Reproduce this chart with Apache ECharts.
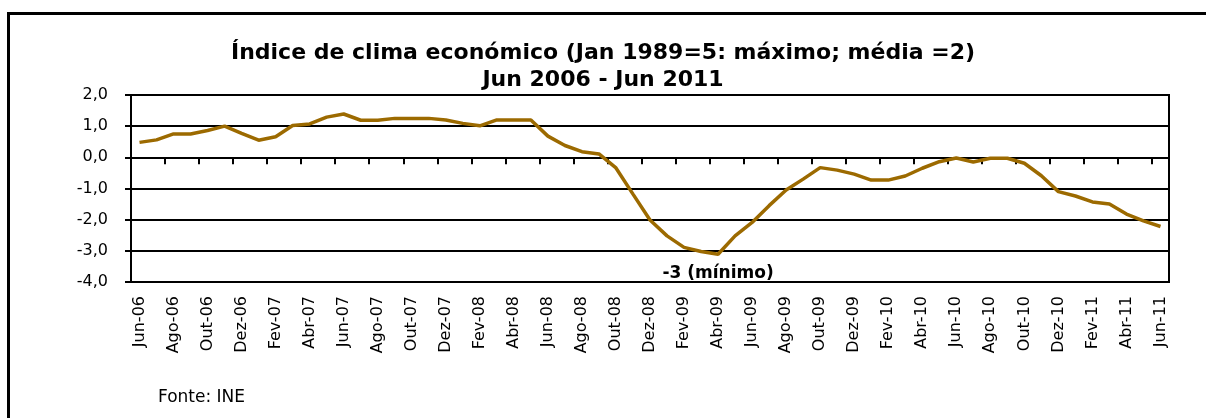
<!DOCTYPE html>
<html>
<head>
<meta charset="utf-8">
<script src="https://cdn.jsdelivr.net/npm/echarts@6/dist/echarts.min.js"></script>
<style>
html,body{margin:0;padding:0;background:#fff;}
#chart{width:1206px;height:418px;}
</style>
</head>
<body>
<div id="chart"></div>
<script>
const monthNames = ['Jan','Fev','Mar','Abr','Mai','Jun','Jul','Ago','Set','Out','Nov','Dez'];
const categories = [];
for (let y = 2006; y <= 2011; y++) {
  for (let m = 0; m < 12; m++) {
    if (y === 2006 && m < 5) continue;
    if (y === 2011 && m > 5) continue;
    categories.push(monthNames[m] + '-' + String(y).slice(2));
  }
}
const climateIndex = [
  0.48, 0.56, 0.75, 0.75, 0.86, 1.00, 0.77, 0.55, 0.66, 1.02,
  1.07, 1.29, 1.39, 1.19, 1.19, 1.25, 1.25, 1.25, 1.20, 1.09,
  1.01, 1.20, 1.20, 1.20, 0.68, 0.38, 0.18, 0.11, -0.34, -1.18,
  -2.01, -2.52, -2.89, -3.02, -3.11, -2.52, -2.09, -1.55, -1.05, -0.70,
  -0.33, -0.41, -0.54, -0.73, -0.73, -0.60, -0.35, -0.14, -0.02, -0.15,
  -0.03, -0.03, -0.19, -0.59, -1.10, -1.24, -1.43, -1.50, -1.82, -2.04,
  -2.22
];
const titleLines = ['Índice de clima económico (Jan 1989=5: máximo; média =2)', 'Jun 2006 - Jun 2011'];
const minLabel = '-3 (mínimo)';
const sourceText = 'Fonte: INE';

const chart = echarts.init(document.getElementById('chart'), null, {renderer:'canvas'});
const FONT = '"DejaVu Sans", Verdana, sans-serif';
chart.setOption({
  animation: false,
  backgroundColor: '#fff',
  title: {
    text: titleLines.join('\n'),
    left: 'center',
    top: 35,
    textStyle: {fontFamily: FONT, fontWeight: 'bold', fontSize: 22, color: '#000', lineHeight: 27}
  },
  graphic: [
    {type:'rect', shape:{x:8.5, y:13.5, width:1300, height:600}, style:{fill:null, stroke:'#000', lineWidth:3}, silent:true},
    {type:'text', left:158, top:389, style:{text: sourceText, font:'17px ' + FONT, fill:'#000'}}
  ],
  grid: {left:131, right:37, top:95, bottom:136, show:true, borderColor:'#000', borderWidth:2, backgroundColor:'transparent'},
  xAxis: [
    {
      type:'category', data:categories, boundaryGap:true, position:'bottom',
      axisLine:{show:false, onZero:false},
      axisTick:{show:false},
      axisLabel:{interval:1, rotate:90, margin:14, fontFamily:FONT, fontSize:16, color:'#000'},
      splitLine:{show:false}
    },
    {
      type:'category', data:categories, boundaryGap:true, position:'bottom',
      axisLine:{show:true, onZero:true, lineStyle:{color:'#000', width:2}},
      axisTick:{show:true, interval:1, length:7, lineStyle:{color:'#000', width:2}},
      axisLabel:{show:false},
      splitLine:{show:false}
    }
  ],
  yAxis: {
    type:'value', min:-4, max:2, interval:1,
    axisLine:{show:true, lineStyle:{color:'#000', width:2}},
    axisTick:{show:true, length:6, lineStyle:{color:'#000', width:2}},
    axisLabel:{margin:23, fontFamily:FONT, fontSize:16, color:'#000', formatter: v => v.toFixed(1).replace('.', ',')},
    splitLine:{show:true, lineStyle:{color:'#000', width:2}}
  },
  series: [{
    type:'line', data:climateIndex, xAxisIndex:0, showSymbol:false, symbol:'none',
    lineStyle:{color:'#9C6A00', width:3.5}, itemStyle:{color:'#9C6A00'},
    markPoint:{
      symbol:'circle', symbolSize:0,
      data:[{type:'min'}],
      label:{show:true, formatter:minLabel, offset:[0,19], fontFamily:FONT, fontWeight:'bold', fontSize:17, color:'#000'}
    }
  }]
});
</script>
</body>
</html>
